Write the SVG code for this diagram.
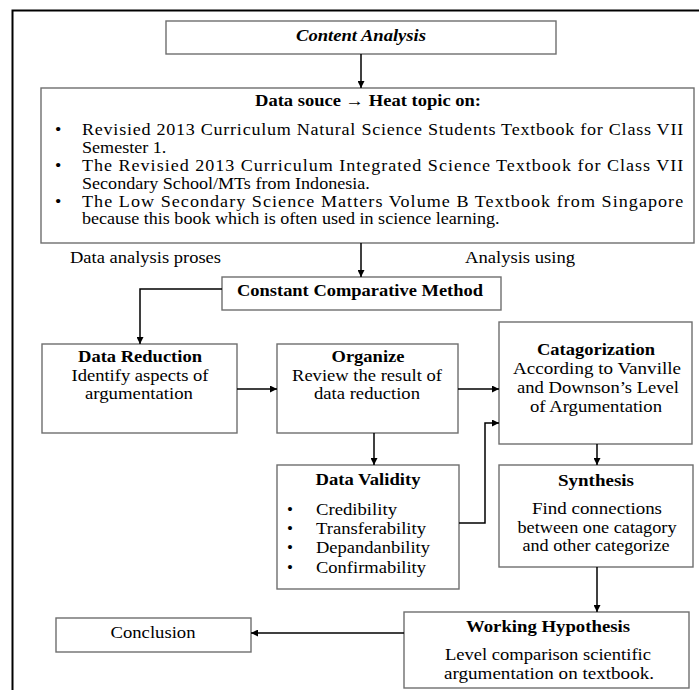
<svg xmlns="http://www.w3.org/2000/svg" width="699" height="690" viewBox="0 0 699 690">
<defs>
<style>
.box{fill:#fff;stroke:#6e6e6e;stroke-width:1.4}
.t{font-family:'Liberation Serif','DejaVu Serif',serif;font-size:17px;fill:#000}
.b{font-weight:bold}
.c{text-anchor:middle}
.s{font-size:16px}
.ln{fill:none;stroke:#000;stroke-width:1.5}
</style>
<marker id="ah" viewBox="0 0 10 10" refX="10" refY="5" markerWidth="7" markerHeight="7" markerUnits="userSpaceOnUse" orient="auto">
<path d="M0,0 L10,5 L0,10 z" fill="#000"/>
</marker>
</defs>
<rect width="699" height="690" fill="#fff"/>
<path d="M699 10.5 H12.5 V690" fill="none" stroke="#000" stroke-width="2"/>

<g id="content-analysis">
<rect class="box" x="166" y="21" width="390" height="33"/>
<text class="t b c s" x="361" y="41" font-style="italic" textLength="130" lengthAdjust="spacingAndGlyphs">Content Analysis</text>
</g>

<g id="data-source">
<rect class="box" x="41" y="88" width="653" height="155"/>
<text class="t b c s" x="368" y="106" textLength="226" lengthAdjust="spacingAndGlyphs">Data souce → Heat topic on:</text>
<g class="t s" transform="scale(1.13 1)">
<text x="48.7" y="135">•</text>
<text x="72.6" y="135" textLength="532" lengthAdjust="spacing">Revisied 2013 Curriculum Natural Science Students Textbook for Class VII</text>
<text x="72.6" y="153">Semester 1.</text>
<text x="48.7" y="171">•</text>
<text x="72.6" y="171" textLength="532" lengthAdjust="spacing">The Revisied 2013 Curriculum Integrated Science Textbook for Class VII</text>
<text x="72.6" y="189">Secondary School/MTs from Indonesia.</text>
<text x="48.7" y="207">•</text>
<text x="72.6" y="207" textLength="532" lengthAdjust="spacing">The Low Secondary Science Matters Volume B Textbook from Singapore</text>
<text x="72.6" y="224">because this book which is often used in science learning.</text>
</g>
</g>

<g id="labels">
<text class="t s" x="70" y="263" textLength="151" lengthAdjust="spacingAndGlyphs">Data analysis proses</text>
<text class="t s" x="465" y="263" textLength="110" lengthAdjust="spacingAndGlyphs">Analysis using</text>
</g>

<g id="ccm">
<rect class="box" x="222" y="277" width="279" height="33"/>
<text class="t b c" x="360" y="296" textLength="246" lengthAdjust="spacingAndGlyphs">Constant Comparative Method</text>
</g>

<g id="data-reduction">
<rect class="box" x="42" y="344" width="195" height="89"/>
<text class="t b c" x="140" y="362" textLength="124" lengthAdjust="spacingAndGlyphs">Data Reduction</text>
<text class="t c" x="140" y="381" textLength="137" lengthAdjust="spacingAndGlyphs">Identify aspects of</text>
<text class="t c" x="139" y="399" textLength="108" lengthAdjust="spacingAndGlyphs">argumentation</text>
</g>

<g id="organize">
<rect class="box" x="277" y="344" width="181" height="89"/>
<text class="t b c" x="368" y="362" textLength="73" lengthAdjust="spacingAndGlyphs">Organize</text>
<text class="t c" x="367" y="381" textLength="150" lengthAdjust="spacingAndGlyphs">Review the result of</text>
<text class="t c" x="367" y="399" textLength="106" lengthAdjust="spacingAndGlyphs">data reduction</text>
</g>

<g id="catagorization">
<rect class="box" x="499" y="322" width="193" height="122"/>
<text class="t b c" x="596" y="355" textLength="118" lengthAdjust="spacingAndGlyphs">Catagorization</text>
<text class="t c" x="597" y="374" textLength="168" lengthAdjust="spacingAndGlyphs">According to Vanville</text>
<text class="t c" x="598" y="393" textLength="162" lengthAdjust="spacingAndGlyphs">and Downson’s Level</text>
<text class="t c" x="596" y="412" textLength="132" lengthAdjust="spacingAndGlyphs">of Argumentation</text>
</g>

<g id="data-validity">
<rect class="box" x="277" y="465" width="182" height="124"/>
<text class="t b c" x="368" y="485" textLength="105" lengthAdjust="spacingAndGlyphs">Data Validity</text>
<g class="t">
<text x="287" y="515">•</text><text x="316" y="515" textLength="81" lengthAdjust="spacingAndGlyphs">Credibility</text>
<text x="287" y="534">•</text><text x="316" y="534" textLength="110" lengthAdjust="spacingAndGlyphs">Transferability</text>
<text x="287" y="553">•</text><text x="316" y="553" textLength="114" lengthAdjust="spacingAndGlyphs">Depandanbility</text>
<text x="287" y="573">•</text><text x="316" y="573" textLength="110" lengthAdjust="spacingAndGlyphs">Confirmability</text>
</g>
</g>

<g id="synthesis">
<rect class="box" x="499" y="465" width="194" height="102"/>
<text class="t b c" x="596" y="486" textLength="76" lengthAdjust="spacingAndGlyphs">Synthesis</text>
<text class="t c" x="597" y="514" textLength="130" lengthAdjust="spacingAndGlyphs">Find connections</text>
<text class="t c" x="597" y="533" textLength="159" lengthAdjust="spacingAndGlyphs">between one catagory</text>
<text class="t c" x="596" y="551" textLength="147" lengthAdjust="spacingAndGlyphs">and other categorize</text>
</g>

<g id="working-hypothesis">
<rect class="box" x="404" y="612" width="285" height="76"/>
<text class="t b c" x="548" y="632" textLength="164" lengthAdjust="spacingAndGlyphs">Working Hypothesis</text>
<text class="t c" x="548" y="660" textLength="206" lengthAdjust="spacingAndGlyphs">Level comparison scientific</text>
<text class="t c" x="549" y="679" textLength="210" lengthAdjust="spacingAndGlyphs">argumentation on textbook.</text>
</g>

<g id="conclusion">
<rect class="box" x="56" y="618" width="195" height="34"/>
<text class="t c" x="153" y="638" textLength="85" lengthAdjust="spacingAndGlyphs">Conclusion</text>
</g>

<g id="connectors">
<path class="ln" d="M361 54 V88" marker-end="url(#ah)"/>
<path class="ln" d="M361 243 V277" marker-end="url(#ah)"/>
<path class="ln" d="M222 289 H140 V344" marker-end="url(#ah)"/>
<path class="ln" d="M237 389 H277" marker-end="url(#ah)"/>
<path class="ln" d="M458 389 H499" marker-end="url(#ah)"/>
<path class="ln" d="M374 433 V465" marker-end="url(#ah)"/>
<path class="ln" d="M459 523 H485 V423 H499" marker-end="url(#ah)"/>
<path class="ln" d="M597 444 V465" marker-end="url(#ah)"/>
<path class="ln" d="M597 567 V612" marker-end="url(#ah)"/>
<path class="ln" d="M404 633 H251" marker-end="url(#ah)"/>
</g>
</svg>
